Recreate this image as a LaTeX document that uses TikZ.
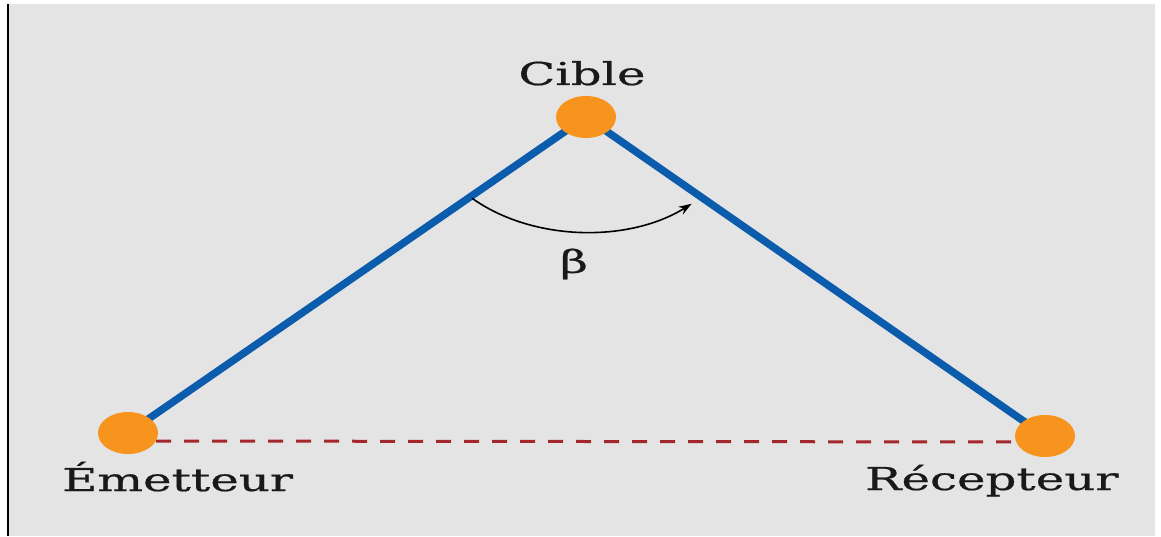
\documentclass[tikz,border=0pt]{standalone}
\usepackage{fontspec}
\setmainfont{DejaVu Serif}[FakeBold=0.6]
\usetikzlibrary{shapes.geometric,arrows.meta,calc}
\definecolor{bggray}{HTML}{E4E4E4}
\definecolor{dotorange}{HTML}{F7941D}
\definecolor{lineblue}{HTML}{0B5CAD}
\definecolor{dashred}{HTML}{A3272D}
\pgfdeclarelayer{bg}
\pgfdeclarelayer{lines}
\pgfsetlayers{bg,lines,main}
\tikzset{
  dot/.style={ellipse, fill=dotorange, draw=none, minimum width=60pt, minimum height=42pt, inner sep=0pt},
  lbl/.style={inner sep=0pt, text=black!90, font=\fontsize{31.5}{36}\selectfont},
  leg/.style={draw=lineblue, line width=7.5pt},
  base/.style={draw=dashred, line width=3pt, dash pattern=on 15pt off 13pt},
}
\newcommand{\wide}[1]{\scalebox{1.53}[1]{#1}}
\begin{document}
\begin{tikzpicture}[x=1pt,y=1pt]
\useasboundingbox (0,0) rectangle (1161,536);
\begin{pgfonlayer}{bg}
  \fill[white] (0,0) rectangle (1161,536);
  \fill[bggray] (8,0) rectangle (1155,532);
  \fill[black] (6.5,0) rectangle (8.5,532);
\end{pgfonlayer}
\node[dot] (C) at (586,419) {};
\node[dot] (E) at (128,103) {};
\node[dot] (R) at (1045,100) {};
\begin{pgfonlayer}{lines}
  \draw[leg] (E.center) -- (C.center);
  \draw[leg] (C.center) -- (R.center);
  \draw[base] ($(E.center)+(0,-8)$) -- ($(R.center)+(0,-6)$);
\end{pgfonlayer}
\draw[line width=1.6pt, -{Stealth[length=13pt,width=9pt]}] (C.center) ++(225:161pt and 115pt) arc[start angle=225, end angle=311, x radius=161pt, y radius=115pt];
\node[lbl, anchor=base] (lc) at (582,451) {\wide{Cible}};
\node[lbl, anchor=base west] (le) at (62,45) {\wide{Émetteur}};
\node[lbl, anchor=base west] (lr) at (865,46) {\wide{Récepteur}};
\node[lbl] (lb) at (574,272) {\wide{β}};
\end{tikzpicture}
\end{document}
